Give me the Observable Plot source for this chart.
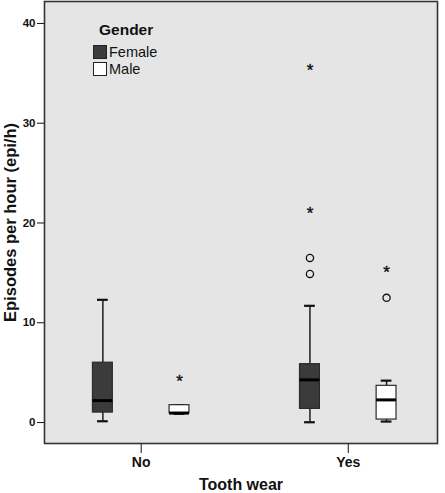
<!DOCTYPE html>
<html><head><meta charset="utf-8">
<script src="https://cdn.jsdelivr.net/npm/d3@7"></script>
<script src="https://cdn.jsdelivr.net/npm/@observablehq/plot@0.6"></script>
<style>
body{margin:0;background:#fff}
#wrap{position:relative;width:445px;height:493px;font-family:"Liberation Sans",Arial,sans-serif}
#legend{position:absolute;left:93px;top:21px;color:#111}
#legend .title{font-weight:bold;font-size:15.5px;margin-left:6px;height:22px;line-height:18px}
#legend .row{display:flex;align-items:center;height:17px;font-size:14.5px}
#legend .sw{width:12px;height:12px;border:1.2px solid #222;margin-right:2px}
</style>
</head><body><div id="wrap"></div>
<script>
const toothWear = ["No", "Yes"];
const genders = ["Female", "Male"];
const genderFill = ["#3b3b3b", "#ffffff"];
const groupWear = ["No", "No", "Yes", "Yes"];
const groupGender = ["Female", "Male", "Female", "Male"];
const whiskerLow = [0.13, 0.88, 0.03, 0.1];
const q1 = [1.0, 0.95, 1.37, 0.3];
const median = [2.2, 0.95, 4.28, 2.27];
const q3 = [6.0, 1.74, 5.85, 3.68];
const whiskerHigh = [12.3, 1.74, 11.7, 4.2];
const outlierWear = ["Yes", "Yes", "Yes"];
const outlierGender = ["Female", "Female", "Male"];
const outlierValue = [16.5, 14.9, 12.5];
const extremeWear = ["No", "Yes", "Yes", "Yes"];
const extremeGender = ["Male", "Female", "Female", "Male"];
const extremeValue = [4.55, 21.3, 35.7, 15.4];
const yTicks = [0, 10, 20, 30, 40];

const OFF = 0.185, BW = 0.048, CAP = 0.026;
const pos = (w, g) => toothWear.indexOf(w) + (g === "Female" ? -OFF : OFF);
const boxes = groupWear.map((w, i) => ({
  x: pos(w, groupGender[i]), gender: groupGender[i],
  lo: whiskerLow[i], q1: q1[i], med: median[i], q3: q3[i], hi: whiskerHigh[i]
}));
const outliers = outlierValue.map((v, i) => ({x: pos(outlierWear[i], outlierGender[i]), v}));
const extremes = extremeValue.map((v, i) => ({x: pos(extremeWear[i], extremeGender[i]), v}));

const chart = Plot.plot({
  width: 445, height: 493,
  marginLeft: 44, marginRight: 8, marginTop: 1, marginBottom: 50,
  style: {fontFamily: '"Liberation Sans", Arial, sans-serif', background: "#fff"},
  x: {type: "linear", domain: [-0.467, 1.431]},
  y: {domain: [-2.1, 42.2]},
  color: {domain: genders, range: genderFill},
  marks: [
    Plot.frame({fill: "#e5e5e5", stroke: "none"}),
    Plot.ruleX(boxes, {x: "x", y1: "lo", y2: "q1", stroke: "#111", strokeWidth: 1.4}),
    Plot.ruleX(boxes, {x: "x", y1: "q3", y2: "hi", stroke: "#111", strokeWidth: 1.4}),
    Plot.ruleY(boxes, {y: "lo", x1: d => d.x - CAP, x2: d => d.x + CAP, stroke: "#111", strokeWidth: 2.2}),
    Plot.ruleY(boxes, {y: "hi", x1: d => d.x - CAP, x2: d => d.x + CAP, stroke: "#111", strokeWidth: 2.2}),
    Plot.rect(boxes, {x1: d => d.x - BW, x2: d => d.x + BW, y1: "q1", y2: "q3", fill: "gender", stroke: "#2a2a2a", strokeWidth: 1.2}),
    Plot.ruleY(boxes, {y: "med", x1: d => d.x - BW, x2: d => d.x + BW, stroke: "#000", strokeWidth: 3}),
    Plot.dot(outliers, {x: "x", y: "v", r: 3.6, stroke: "#111", strokeWidth: 1.3, fill: "none"}),
    Plot.text(extremes, {x: "x", y: "v", text: () => "*", fontSize: 17, dy: 4, fill: "#111", stroke: "#111", strokeWidth: 0.4}),
    Plot.axisY({ticks: yTicks, tickSize: 7, tickPadding: 2, label: null, fontSize: 11.5, fontWeight: "bold", stroke: "#111", fill: "#111"}),
    Plot.axisX({ticks: [0, 1], tickFormat: i => toothWear[i], tickSize: 10, tickPadding: 4, label: null, fontSize: 14, fontWeight: "bold", stroke: "#111", fill: "#111"}),
    Plot.text(["Episodes per hour (epi/h)"], {frameAnchor: "left", textAnchor: "middle", rotate: -90, dx: -34, fontSize: 16.5, fontWeight: "bold", fill: "#111"}),
    Plot.text(["Tooth wear"], {frameAnchor: "bottom", dy: 41, lineAnchor: "middle", fontSize: 16, fontWeight: "bold", fill: "#111"}),
    Plot.frame({stroke: "#333", strokeWidth: 1.6})
  ]
});
const wrap = document.getElementById("wrap");
wrap.appendChild(chart);
const legend = document.createElement("div");
legend.id = "legend";
legend.innerHTML = `<div class="title">Gender</div>` +
  genders.map((g, i) => `<div class="row"><span class="sw" style="background:${genderFill[i]}"></span>${g}</div>`).join("");
wrap.appendChild(legend);
</script>
</body></html>
